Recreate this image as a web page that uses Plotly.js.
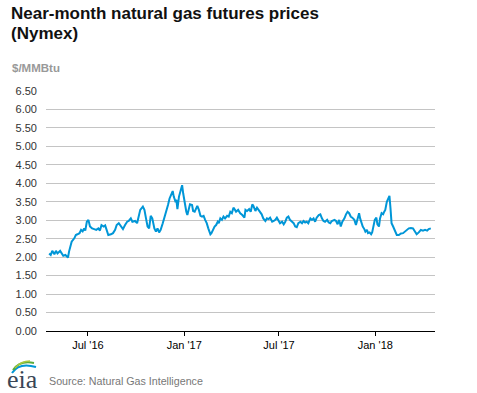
<!DOCTYPE html>
<html>
<head>
<meta charset="utf-8">
<script src="https://cdn.plot.ly/plotly-3.0.1.min.js"></script>
<style>html,body{margin:0;padding:0;background:#fff;}#chart{width:477px;height:393px;}</style>
</head>
<body>
<div id="chart"></div>
<script>
// Days relative to baseDate
const baseDate = "2017-01-01";
const dayOffsets = [
-258,-255,-252,-248,-245,-242,-237,-234,-231,-227,-224,-222,-220,-215,-210,-207,-204,-200,-197,-194,
-191,-189,-186,-183,-180,-176,-172,-168,-164,-161,-158,-154,-151,-148,-145,-140,-136,-132,-129,-125,
-121,-117,-113,-109,-106,-102,-99,-94,-90,-87,-84,-79,-76,-73,-70,-67,-64,-61,-57,-54,
-51,-48,-45,-41,-38,-34,-31,-28,-25,-22,-20,-17,-15,-13,-10,-7,-4,-2,1,4,
6,9,11,15,17,20,22,25,28,31,34,37,40,43,46,50,52,55,58,61,
64,66,69,72,75,78,82,85,88,91,94,97,99,103,107,111,115,117,120,124,
127,130,132,136,139,142,145,148,151,155,158,161,164,168,171,174,177,180,183,187,
190,193,196,199,202,206,209,212,215,218,222,225,228,231,234,237,241,244,247,250,
253,257,260,263,266,269,273,276,279,282,287,290,293,296,299,302,306,309,312,315,
318,321,325,328,331,334,336,339,341,344,346,349,351,354,357,359,362,364,367,369,
372,374,377,380,382,384,387,390,392,394,396,399,401,404,406,410,414,418,422,425,
429,433,437,441,444,448,452,456,460,464,467,471
];
const prices = [
2.10,2.06,2.17,2.08,2.17,2.10,2.17,2.10,2.04,2.06,2.01,1.99,2.15,2.42,2.51,2.60,2.62,2.65,2.74,2.70,
2.78,2.72,2.96,3.01,2.83,2.78,2.76,2.74,2.78,2.72,2.87,2.83,2.86,2.74,2.60,2.62,2.65,2.74,2.87,2.92,
2.83,2.76,2.87,2.96,2.98,3.05,2.96,2.98,2.92,3.14,3.28,3.37,3.28,3.05,2.83,2.78,3.12,3.05,2.78,2.69,
2.78,2.67,2.74,2.92,3.05,3.23,3.41,3.59,3.68,3.79,3.64,3.52,3.55,3.30,3.64,3.79,3.95,3.73,3.41,3.23,
3.14,3.32,3.43,3.41,3.25,3.23,3.32,3.39,3.28,3.12,3.10,3.12,3.01,2.92,2.78,2.62,2.65,2.74,2.83,2.87,
2.96,2.92,3.05,3.01,3.10,3.05,3.12,3.10,3.23,3.19,3.34,3.28,3.23,3.28,3.19,3.14,3.07,3.28,3.25,3.30,
3.23,3.43,3.39,3.25,3.34,3.28,3.23,3.16,3.05,2.98,3.05,3.03,3.07,2.96,2.98,3.01,3.07,3.01,2.92,2.96,
2.89,2.96,3.07,3.10,3.01,2.96,2.92,2.83,2.81,2.92,2.96,2.92,2.98,2.94,2.96,2.92,3.05,3.01,3.05,2.96,
3.07,3.14,3.16,3.05,2.98,2.96,3.01,2.94,2.92,2.98,3.01,2.98,2.89,3.01,2.83,2.96,3.05,3.16,3.23,3.19,
3.10,3.07,3.01,2.87,3.07,3.19,3.05,2.87,2.83,2.76,2.69,2.74,2.65,2.67,2.62,2.67,2.92,3.01,3.07,2.89,
2.83,3.05,3.19,3.16,3.23,3.28,3.50,3.61,3.66,3.32,2.92,2.83,2.76,2.65,2.60,2.60,2.64,2.65,2.69,2.74,
2.78,2.79,2.78,2.69,2.62,2.67,2.74,2.72,2.74,2.72,2.76,2.78
];
const yTickVals = [0,0.5,1,1.5,2,2.5,3,3.5,4,4.5,5,5.5,6,6.5];
const yTickText = ["0.00","0.50","1.00","1.50","2.00","2.50","3.00","3.50","4.00","4.50","5.00","5.50","6.00","6.50"];
const xTickVals = ["2016-07-01","2017-01-01","2017-07-01","2018-01-01"];
const xTickText = ["Jul '16","Jan '17","Jul '17","Jan '18"];
const titleLines = ["Near-month natural gas futures prices", "(Nymex)"];
const unitText = "$/MMBtu";
const sourceText = "Source: Natural Gas Intelligence";

const baseMs = Date.parse(baseDate + "T00:00:00Z");
const dates = dayOffsets.map(d => new Date(baseMs + d * 864e5).toISOString().slice(0, 10));

// layout geometry (pixels)
const W = 477, H = 393, L = 46, R = 42, T = 91, B = 62;
const pw = W - L - R, ph = H - T - B;
const px = x => (x - L) / pw;
const py = y => (H - B - y) / ph;

const trace = {
  x: dates, y: prices, type: "scatter", mode: "lines",
  line: {color: "#0096d7", width: 2}, hoverinfo: "x+y"
};

function arc(x0, y0, cx, cy, x1, y1) {
  return `M ${px(x0)} ${py(y0)} Q ${px(cx)} ${py(cy)} ${px(x1)} ${py(y1)}`;
}

const titleFont = {family: "Arial, 'Liberation Sans', sans-serif", size: 17, color: "#111"};

const layout = {
  width: W, height: H,
  margin: {l: L, r: R, t: T, b: B, pad: 0},
  paper_bgcolor: "#fff", plot_bgcolor: "#fff",
  showlegend: false,
  font: {family: "Arial, 'Liberation Sans', sans-serif", size: 11, color: "#333"},
  xaxis: {
    type: "date", range: ["2016-04-12", "2018-04-25"],
    tickvals: xTickVals, ticktext: xTickText,
    ticks: "outside", ticklen: 4, tickcolor: "#000", tickwidth: 1,
    showline: true, linecolor: "#000", linewidth: 1,
    showgrid: false, zeroline: false,
    tickfont: {size: 11, color: "#000"}
  },
  yaxis: {
    range: [0, 6.5], tickvals: yTickVals, ticktext: yTickText,
    showgrid: true, gridcolor: "#c4c4c4", gridwidth: 1,
    zeroline: false, showline: false, ticks: "",
    ticklabelstandoff: 8,
    tickfont: {size: 11, color: "#333"}
  },
  annotations: [
    {text: "<b>" + titleLines[0] + "</b>", xref: "paper", yref: "paper",
     x: px(9), y: py(13), xanchor: "left", yanchor: "middle", showarrow: false, font: titleFont},
    {text: "<b>" + titleLines[1] + "</b>", xref: "paper", yref: "paper",
     x: px(9), y: py(34), xanchor: "left", yanchor: "middle", showarrow: false, font: titleFont},
    {text: "<b>" + unitText + "</b>", xref: "paper", yref: "paper",
     x: px(10), y: py(68), xanchor: "left", yanchor: "middle", showarrow: false,
     font: {size: 11.5, color: "#999"}},
    {text: sourceText, xref: "paper", yref: "paper",
     x: px(47), y: py(381), xanchor: "left", yanchor: "middle", showarrow: false,
     font: {size: 10.7, color: "#777"}},
    {text: "eia", xref: "paper", yref: "paper",
     x: px(5), y: py(379), xanchor: "left", yanchor: "middle", showarrow: false,
     height: 26,
     font: {family: "'Liberation Serif', 'DejaVu Serif', serif", size: 26, color: "#3a4656"}}
  ],
  shapes: [
    {type: "path", xref: "paper", yref: "paper", path: arc(12, 373, 19, 362, 36, 367), line: {color: "#0096d7", width: 2}},
    {type: "path", xref: "paper", yref: "paper", path: arc(13, 370, 20, 360, 34, 363), line: {color: "#5aaa3c", width: 2}},
    {type: "path", xref: "paper", yref: "paper", path: arc(15, 368, 21, 361, 30, 361), line: {color: "#a8c83c", width: 1.5}}
  ]
};

Plotly.newPlot("chart", [trace], layout, {displayModeBar: false, staticPlot: true});
</script>
</body>
</html>
